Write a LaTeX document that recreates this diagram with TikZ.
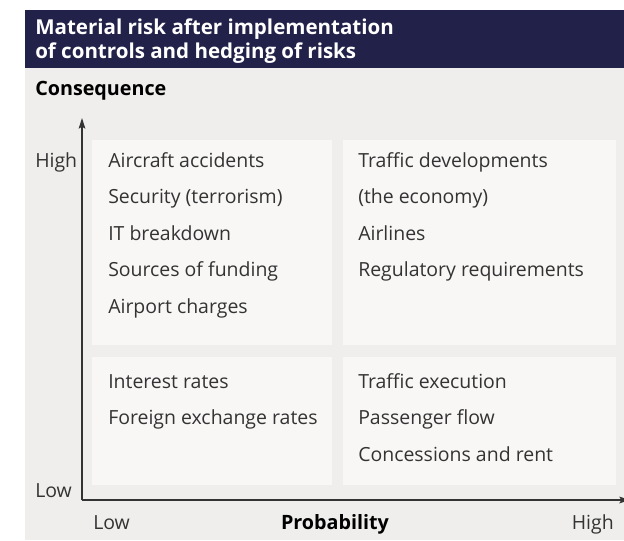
\documentclass[tikz,border=0pt]{standalone}
\usepackage{fontspec}
\setmainfont{Open Sans}
\usetikzlibrary{arrows.meta}
\definecolor{navy}{HTML}{222149}
\definecolor{bggray}{HTML}{EFEEEC}
\definecolor{boxgray}{HTML}{F8F7F6}
\definecolor{txt}{HTML}{333333}
\begin{document}
\begin{tikzpicture}[x=0.75pt,y=-0.75pt,
  item/.style={anchor=base west,inner sep=0pt,text=txt,font=\fontsize{14.6}{16}\selectfont},
  axlabel/.style={anchor=base west,inner sep=0pt,text=txt,font=\fontsize{14.6}{16}\selectfont},
  boldlabel/.style={inner sep=0pt,text=black,font=\bfseries\fontsize{14.8}{16}\selectfont},
  title/.style={anchor=base west,inner sep=0pt,text=white,font=\bfseries\fontsize{15.4}{17}\selectfont},
  quad/.style={fill=boxgray,draw=none},
  axis/.style={draw=black!80,line width=0.9pt,-{Stealth[length=8pt,width=5pt,inset=1.5pt]}}]
\useasboundingbox (0,0) rectangle (624,540);
\fill[white] (0,0) rectangle (624,540);
\fill[bggray] (25,68) rectangle (624,540);
\fill[navy] (25,10) rectangle (624,68);
\node[title] (t1) at (35,34.5) {Material risk after implementation};
\node[title] (t2) at (35,58.5) {of controls and hedging of risks};
\node[boldlabel,anchor=base west] (cons) at (35,95) {Consequence};
% quadrants
\fill[quad] (92,140) rectangle (332,345);
\fill[quad] (343,140) rectangle (616,345);
\fill[quad] (92,357) rectangle (332,485);
\fill[quad] (343,357) rectangle (616,485);
% axes
\coordinate (origin) at (82,500);
\coordinate (ytip) at (82,118);
\coordinate (xtip) at (630,500);
\draw[axis] (origin) -- (ytip);
\draw[axis] (origin) -- (xtip);
\node[axlabel] (yhigh) at (35,167) {High};
\node[axlabel] (ylow) at (35,497) {Low};
\node[axlabel] (xlow) at (93,529) {Low};
\node[boldlabel,anchor=base] (prob) at (335,529) {Probability};
\node[anchor=base east,inner sep=0pt,text=txt,font=\fontsize{14.6}{16}\selectfont] (xhigh) at (614,529) {High};
% top-left
\node[item] (a1) at (108,167) {Aircraft accidents};
\node[item] (a2) at (108,203.5) {Security (terrorism)};
\node[item] (a3) at (108,240) {IT breakdown};
\node[item] (a4) at (108,276.5) {Sources of funding};
\node[item] (a5) at (108,313) {Airport charges};
% top-right
\node[item] (b1) at (358,167) {Traffic developments};
\node[item] (b2) at (358,203.5) {(the economy)};
\node[item] (b3) at (358,240) {Airlines};
\node[item] (b4) at (358,276.5) {Regulatory requirements};
% bottom-left
\node[item] (c1) at (108,388) {Interest rates};
\node[item] (c2) at (108,424.5) {Foreign exchange rates};
% bottom-right
\node[item] (d1) at (358,388) {Traffic execution};
\node[item] (d2) at (358,424.5) {Passenger flow};
\node[item] (d3) at (358,461) {Concessions and rent};
\end{tikzpicture}
\end{document}
